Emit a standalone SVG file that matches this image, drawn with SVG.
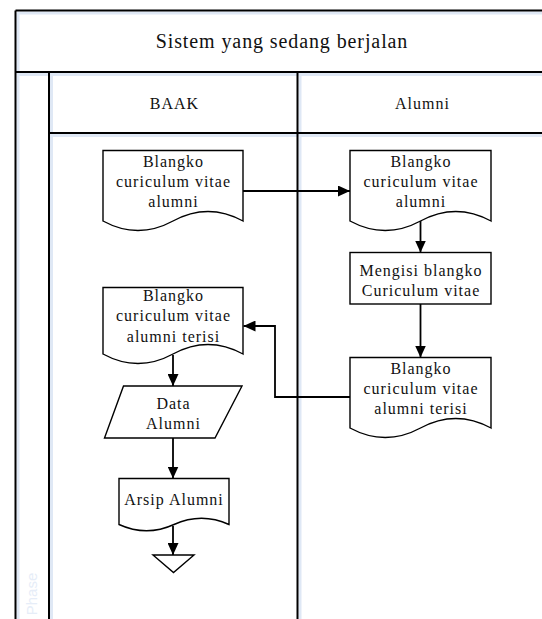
<svg xmlns="http://www.w3.org/2000/svg" width="542" height="619" viewBox="0 0 542 619">
<style>
.frame{stroke:#000;stroke-width:2;fill:none}
.shadow{stroke:#dfe8f5;stroke-width:3;fill:none}
.shape{fill:#fff;stroke:#000;stroke-width:1.4}
.conn{stroke:#000;stroke-width:1.8;fill:none;marker-end:url(#arr)}
text{font-family:"Liberation Serif","Times New Roman",serif;font-size:16px;letter-spacing:1px;text-anchor:middle;fill:#111}
.title{font-size:20px;letter-spacing:0.9px}
.phase{font-family:"Liberation Sans",Arial,sans-serif;font-size:15px;letter-spacing:0;fill:#e6edf8}
</style>
<defs>
<marker id="arr" markerUnits="userSpaceOnUse" markerWidth="12" markerHeight="11" refX="12" refY="5.5" orient="auto">
<path d="M0,0 L12,5.5 L0,11 z" fill="#000"/>
</marker>
</defs>
<rect width="542" height="619" fill="#fff"/>
<g id="pool">
<path class="shadow" d="M17,13 H542 M17,74.5 H542 M51,135.5 H542 M18,13 V619 M51.5,74 V619 M300,74 V619"/>
<path class="frame" d="M15.5,10.5 H542 M15.5,72 H542 M49,133 H542 M15.5,10.5 V619 M49,72 V619 M297.5,72 V619"/>
<text class="title" x="282" y="47.5">Sistem yang sedang berjalan</text>
<text x="174.5" y="108.5">BAAK</text>
<text x="422.5" y="108.5">Alumni</text>
<text class="phase" transform="translate(37,594) rotate(-90)">Phase</text>
</g>
<g id="connectors">
<path class="conn" d="M243,191 H350"/>
<path class="conn" d="M420.5,221 V252.5"/>
<path class="conn" d="M420.5,304 V357.5"/>
<path class="conn" d="M350,397 H275 V326 H243.5"/>
<path class="conn" d="M173,355 V386"/>
<path class="conn" d="M173,438 V478.5"/>
<path class="conn" d="M173,526 V555"/>
</g>
<g id="doc1">
<path class="shape" d="M103,150.5 H243 V221 Q208,202 173,221 T103,221 Z"/>
<text x="173.5" y="166.5">Blangko</text>
<text x="173.5" y="186.5">curiculum vitae</text>
<text x="173.5" y="206.5">alumni</text>
</g>
<g id="doc2">
<path class="shape" d="M350,150.5 H491 V221 Q455.75,202 420.5,221 T350,221 Z"/>
<text x="421" y="167">Blangko</text>
<text x="421" y="187">curiculum vitae</text>
<text x="421" y="207">alumni</text>
</g>
<g id="process">
<rect class="shape" x="350" y="252.5" width="141" height="51.5"/>
<text x="421" y="275.5">Mengisi blangko</text>
<text x="421" y="295.5">Curiculum vitae</text>
</g>
<g id="doc3">
<path class="shape" d="M350,357.5 H491 V428 Q455.75,409 420.5,428 T350,428 Z"/>
<text x="421" y="374">Blangko</text>
<text x="421" y="394">curiculum vitae</text>
<text x="421" y="414">alumni terisi</text>
</g>
<g id="doc4">
<path class="shape" d="M103,287.5 H243 V354 Q208,335 173,354 T103,354 Z"/>
<text x="173.5" y="300.5">Blangko</text>
<text x="173.5" y="321">curiculum vitae</text>
<text x="173.5" y="341.5">alumni terisi</text>
</g>
<g id="data">
<path class="shape" d="M123.5,386 H242 L215,438 H104.5 Z"/>
<text x="173.5" y="408.5">Data</text>
<text x="173.5" y="428.5">Alumni</text>
</g>
<g id="arsip">
<path class="shape" d="M119,478.5 H229 V524.5 Q201.5,512 174,524.5 T119,524.5 Z"/>
<text x="174" y="505">Arsip Alumni</text>
</g>
<g id="offpage">
<path class="shape" d="M153,555 H194 L173.5,572.5 Z"/>
</g>
</svg>
